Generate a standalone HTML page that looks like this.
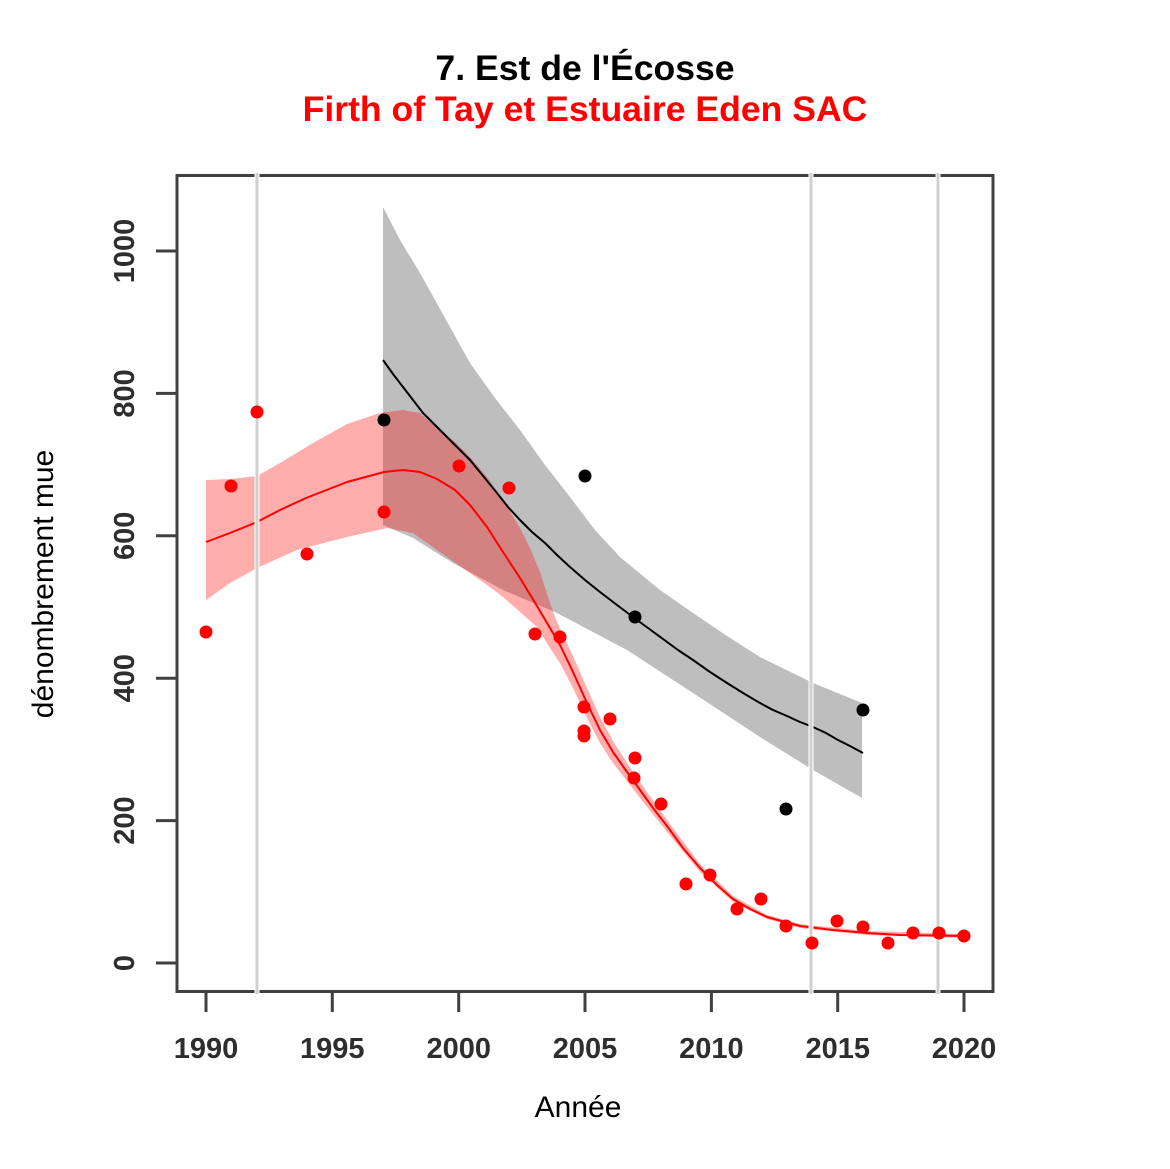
<!DOCTYPE html>
<html>
<head>
<meta charset="utf-8">
<style>
  html, body { margin: 0; padding: 0; background: #ffffff; }
  svg { display: block; }
  text { font-family: "Liberation Sans", Arial, sans-serif; }
</style>
</head>
<body>
<svg width="1170" height="1169" viewBox="0 0 1170 1169" xmlns="http://www.w3.org/2000/svg">
  <rect x="0" y="0" width="1170" height="1169" fill="#ffffff"/>

  <!-- Titles -->
  <text x="585" y="80" text-anchor="middle" font-size="35.6" font-weight="bold" fill="#000">7. Est de l'Écosse</text>
  <text x="585" y="121" text-anchor="middle" font-size="35.6" font-weight="bold" fill="#ff0000">Firth of Tay et Estuaire Eden SAC</text>

  <!-- Gray confidence band -->
  <polygon fill="#bebebe" points="
    383,207 400,240 420,273 445,318 470,363 495,398 520,430 545,465 570,497 595,530 620,557 660,590 693,613 727,636 760,657 813,683 862,703
    862,798 813,770 760,737 693,693 627,650 555,612 503,590 453,563 413,538 383,525"/>

  <!-- Red confidence band -->
  <polygon fill="rgba(255,0,0,0.32)" points="
    206,480 230,479 257,476 280,463 313,443 347,424 380,413 403,410 420,413 437,428 455,442 470,457 487,477 503,500 520,528 530,548 540,572 550,603 557,622 573,656 587,688 600,717 613,741 627,763 640,782 667,820 700,864 733,896 767,915 800,924 867,931 964,934
    964,938 867,935 800,928 767,919 733,902 700,872 667,832 640,798 627,781 613,763 600,743 587,718 573,688 560,663 550,648 537,627 520,612 503,597 487,585 470,573 437,550 413,533 387,528 347,537 297,550 257,568 230,583 206,600"/>

  <!-- Black fitted line -->
  <polyline fill="none" stroke="#000" stroke-width="2" stroke-linejoin="round" points="
    383,360 393,374 403,387 413,400 423,413 435,425 447,437 458,448 470,460 484,477 497,493 508,507 520,520 532,532 545,543 557,555 570,567 585,580 600,592 617,605 633,617 648,628 663,639 678,650 693,660 710,672 727,683 743,693 760,703 773,710 787,716 800,722 813,727 826,733 838,740 850,746 863,753"/>

  <!-- Red fitted line -->
  <polyline fill="none" stroke="#ff0000" stroke-width="2" stroke-linejoin="round" points="
    206,542 230,533 257,522 280,510 306,498 347,482 384,472 403,470 420,472 437,479 455,490 470,505 487,527 503,552 520,578 537,606 550,628 560,645 573,672 587,703 600,730 613,752 627,772 640,790 653,808 667,826 683,848 700,868 717,885 733,899 750,909 767,917 785,922 800,926 833,930 867,933 900,935 964,936"/>

  <!-- Axes box -->
  <rect x="177" y="175.5" width="816" height="816" fill="none" stroke="#404040" stroke-width="3"/>

  <!-- Vertical reference lines -->
  <g>
    <line x1="257" y1="173" x2="257" y2="994" stroke="#ffffff" stroke-width="5"/>
    <line x1="811" y1="173" x2="811" y2="994" stroke="#ffffff" stroke-width="5"/>
    <line x1="938" y1="173" x2="938" y2="994" stroke="#ffffff" stroke-width="5"/>
    <line x1="257" y1="173" x2="257" y2="994" stroke="#d0d0d0" stroke-width="3"/>
    <line x1="811" y1="173" x2="811" y2="994" stroke="#d0d0d0" stroke-width="3"/>
    <line x1="938" y1="173" x2="938" y2="994" stroke="#d0d0d0" stroke-width="3"/>
  </g>

  <!-- X ticks -->
  <g stroke="#404040" stroke-width="3">
    <line x1="206" y1="991" x2="206" y2="1012"/>
    <line x1="332.3" y1="991" x2="332.3" y2="1012"/>
    <line x1="458.7" y1="991" x2="458.7" y2="1012"/>
    <line x1="585" y1="991" x2="585" y2="1012"/>
    <line x1="711.4" y1="991" x2="711.4" y2="1012"/>
    <line x1="837.7" y1="991" x2="837.7" y2="1012"/>
    <line x1="964" y1="991" x2="964" y2="1012"/>
  </g>
  <g font-size="29" font-weight="bold" fill="#2e2e2e" text-anchor="middle">
    <text x="206" y="1058">1990</text>
    <text x="332.3" y="1058">1995</text>
    <text x="458.7" y="1058">2000</text>
    <text x="585" y="1058">2005</text>
    <text x="711.4" y="1058">2010</text>
    <text x="837.7" y="1058">2015</text>
    <text x="964" y="1058">2020</text>
  </g>

  <!-- Y ticks -->
  <g stroke="#404040" stroke-width="3">
    <line x1="156" y1="963" x2="177" y2="963"/>
    <line x1="156" y1="820.6" x2="177" y2="820.6"/>
    <line x1="156" y1="678.2" x2="177" y2="678.2"/>
    <line x1="156" y1="535.8" x2="177" y2="535.8"/>
    <line x1="156" y1="393.4" x2="177" y2="393.4"/>
    <line x1="156" y1="251" x2="177" y2="251"/>
  </g>
  <g font-size="29" font-weight="bold" fill="#2e2e2e" text-anchor="middle">
    <text transform="translate(134,963) rotate(-90)">0</text>
    <text transform="translate(134,820.6) rotate(-90)">200</text>
    <text transform="translate(134,678.2) rotate(-90)">400</text>
    <text transform="translate(134,535.8) rotate(-90)">600</text>
    <text transform="translate(134,393.4) rotate(-90)">800</text>
    <text transform="translate(134,251) rotate(-90)">1000</text>
  </g>

  <!-- Axis labels -->
  <text x="578" y="1117" text-anchor="middle" font-size="30" fill="#000">Année</text>
  <text transform="translate(53,584) rotate(-90)" text-anchor="middle" font-size="30" fill="#000">dénombrement mue</text>

  <!-- Black points -->
  <g fill="#000">
    <circle cx="384" cy="420" r="6.5"/>
    <circle cx="585" cy="476" r="6.5"/>
    <circle cx="635" cy="617" r="6.5"/>
    <circle cx="786" cy="809" r="6.5"/>
    <circle cx="863" cy="710" r="6.5"/>
  </g>

  <!-- Red points -->
  <g fill="#ff0000">
    <circle cx="206" cy="632" r="6.5"/>
    <circle cx="231" cy="486" r="6.5"/>
    <circle cx="257" cy="412" r="6.5"/>
    <circle cx="307" cy="554" r="6.5"/>
    <circle cx="384" cy="512" r="6.5"/>
    <circle cx="459" cy="466" r="6.5"/>
    <circle cx="509" cy="488" r="6.5"/>
    <circle cx="535" cy="634" r="6.5"/>
    <circle cx="560" cy="637" r="6.5"/>
    <circle cx="584" cy="707" r="6.5"/>
    <circle cx="584" cy="731" r="6.5"/>
    <circle cx="584" cy="736" r="6.5"/>
    <circle cx="610" cy="719" r="6.5"/>
    <circle cx="635" cy="758" r="6.5"/>
    <circle cx="634" cy="778" r="6.5"/>
    <circle cx="661" cy="804" r="6.5"/>
    <circle cx="686" cy="884" r="6.5"/>
    <circle cx="710" cy="875" r="6.5"/>
    <circle cx="737" cy="909" r="6.5"/>
    <circle cx="761" cy="899" r="6.5"/>
    <circle cx="786" cy="926" r="6.5"/>
    <circle cx="812" cy="943" r="6.5"/>
    <circle cx="837" cy="921" r="6.5"/>
    <circle cx="863" cy="927" r="6.5"/>
    <circle cx="888" cy="943" r="6.5"/>
    <circle cx="913" cy="933" r="6.5"/>
    <circle cx="939" cy="933" r="6.5"/>
    <circle cx="964" cy="936" r="6.5"/>
  </g>
</svg>
</body>
</html>
